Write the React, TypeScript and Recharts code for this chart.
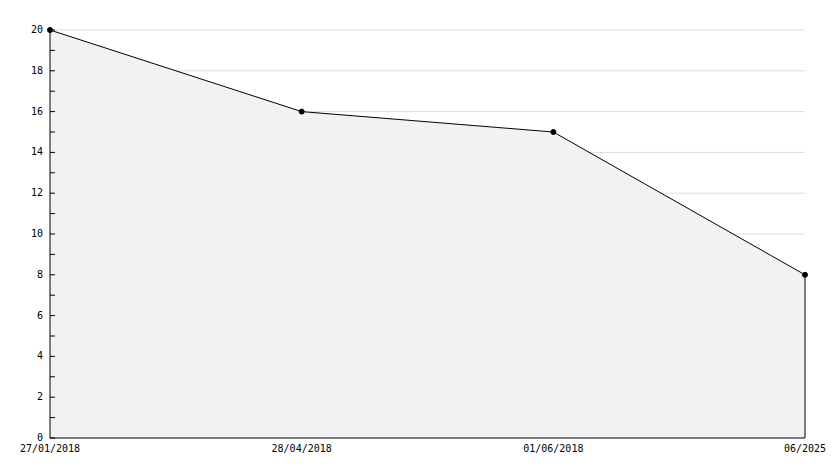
import React from 'react';
import {
  ComposedChart,
  Area,
  XAxis,
  YAxis,
  CartesianGrid,
  ReferenceLine } from
'recharts';

const dates = ['27/01/2018', '28/04/2018', '01/06/2018', '06/2025'];
const counts = [20, 16, 15, 8];
const yTicks = [0, 1, 2, 3, 4, 5, 6, 7, 8, 9, 10, 11, 12, 13, 14, 15, 16, 17, 18, 19, 20];
const gridValues = [2, 4, 6, 8, 10, 12, 14, 16, 18, 20];

const data = dates.map((d, i) => ({ date: d, count: counts[i] }));
const last = data[data.length - 1];

const FONT = '"DejaVu Sans Mono", monospace';

function YTick(props: any) {
  const { x, y, payload } = props;
  const major = payload.value % 2 === 0;
  return (
    <g>
      <line x1={x} x2={x + 5} y1={y} y2={y} stroke="#000" />
      {major &&
      <text x={x - 7} y={y} dy={3} textAnchor="end" fontSize={10} fontFamily={FONT} fill="#000">
          {payload.value}
        </text>
      }
    </g>);

}

function XTick(props: any) {
  const { x, y, payload } = props;
  return (
    <text x={x} y={y} dy={6} textAnchor="middle" fontSize={10} fontFamily={FONT} fill="#000">
      {payload.value}
    </text>);

}

export default function App() {
  return (
    <div style={{ position: 'absolute', left: 0, top: 0, width: 834, height: 468, background: '#fff' }}>
      <ComposedChart
        width={834}
        height={468}
        data={data}
        margin={{ top: 30, right: 29, bottom: 0, left: 0 }}>

        <CartesianGrid
          vertical={false}
          stroke="#dddddd"
          horizontalValues={gridValues} />

        <Area
          type="linear"
          dataKey="count"
          stroke="#000"
          strokeWidth={1}
          fill="#f2f2f2"
          fillOpacity={1}
          dot={{ r: 2.5, fill: '#000', stroke: '#000', strokeWidth: 1 }}
          activeDot={false}
          isAnimationActive={false} />

        <ReferenceLine
          segment={[{ x: last.date, y: 0 }, { x: last.date, y: last.count }]}
          stroke="#000"
          strokeWidth={1} />

        <XAxis
          dataKey="date"
          padding={{ left: 0, right: 0 }}
          height={30}
          axisLine={{ stroke: '#000' }}
          tickLine={false}
          tick={<XTick />}
          interval={0} />

        <YAxis
          width={50}
          domain={[0, 20]}
          ticks={yTicks}
          interval={0}
          axisLine={{ stroke: '#000' }}
          tickLine={false}
          tickSize={0}
          tickMargin={0}
          tick={<YTick />} />

      </ComposedChart>
    </div>);

}
